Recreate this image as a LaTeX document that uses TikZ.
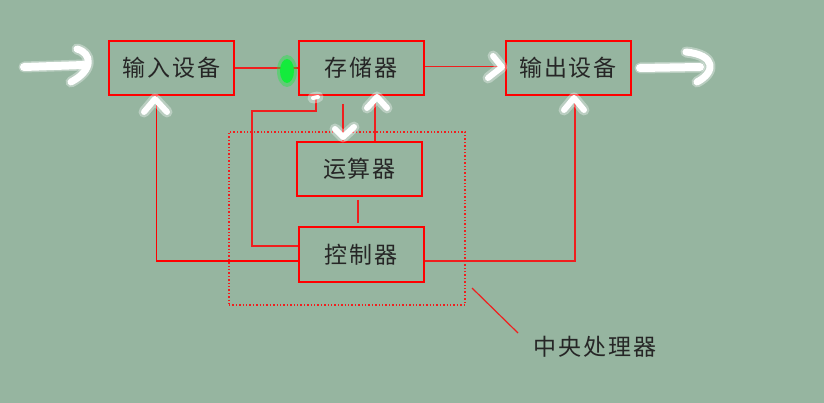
\documentclass[tikz,border=0pt]{standalone}
\usepackage{fontspec}
\newfontfamily\cjk{Noto Sans CJK SC}[LetterSpace=8]
\usepackage{tikz}
\usetikzlibrary{arrows.meta,positioning,calc}
\definecolor{slate}{RGB}{150,181,160}
\definecolor{wirered}{RGB}{240,30,30}
\definecolor{glowgreen}{RGB}{20,235,60}
\begin{document}
\begin{tikzpicture}[x=1pt, y=-1pt,
    unit/.style={draw=red, line width=2pt, minimum width=125pt, minimum height=54pt,
      inner sep=0pt, text=black!85, font=\cjk\fontsize{23}{26}\selectfont},
    cpu/.style={draw=wirered, line width=1.4pt, dotted, minimum width=236pt, minimum height=173pt},
    wire/.style={draw=wirered, line width=1.2pt},
    riser/.style={draw=wirered, line width=1.5pt},
    heavywire/.style={draw=red, line width=1.6pt},
    glow/.style={draw=white, line width=6pt, line cap=round, line join=round,
      preaction={draw=white, opacity=0.35, line width=11pt, line cap=round, line join=round}}]
    \useasboundingbox[fill=slate] (0,0) rectangle (824,403);
    % boxes
    \node[unit] (input) at (171.5,68) {输入设备};
    \node[unit] (store) at (361,68) {存储器};
    \node[unit] (output) at (568,68) {输出设备};
    \node[unit] (alu) at (359.5,169) {运算器};
    \node[unit] (ctrl) at (361,254.5) {控制器};
    \node[cpu] (cpu) at (347,218.5) {};
    \node[font=\cjk\fontsize{23}{26}\selectfont, text=black!85] (cpulabel) at (595,347) {中央处理器};
    % connectors
    \draw[wire] (input.east) -- (store.west);
    \draw[wire] ([yshift=1.5pt]store.east) -- ([yshift=1.5pt]output.west);
    \draw[heavywire] ([xshift=-15pt]input.south) |- ([yshift=-6.5pt]ctrl.west);
    \draw[riser] ([yshift=-6.5pt]ctrl.east) -| ([xshift=7pt]output.south);
    \coordinate (ltop) at (252,111);
    \draw[riser] ([xshift=-45pt]store.south) |- (ltop) |- ([yshift=8.5pt]ctrl.west);
    \draw[riser] ([xshift=-18pt,yshift=-8pt]store.south) -- ([xshift=-18pt]store.south |- alu.north);
    \draw[riser] ([xshift=14pt]store.south) -- ([xshift=14pt]store.south |- alu.north);
    \draw[riser] ([xshift=-1.5pt,yshift=-3pt]alu.south) -- ([xshift=-1.5pt,yshift=3pt]alu.south |- ctrl.north);
    \coordinate (leadtop) at (472,288);
    \coordinate (leadend) at (518,333);
    \draw[wire] (leadtop) -- (leadend);
    % glowing arrows
    \draw[glow, line width=8pt] (24,67) -- (84,65);
    \draw[glow, line width=7pt] (77,49) .. controls (92,53) and (94,70) .. (71,82);
    \draw[glow, line width=8pt] (640,68) -- (700,67);
    \draw[glow, line width=7pt] (686,52) .. controls (716,55) and (716,72) .. (697,82);
    \draw[glow] (493,56) -- (502,67) -- (488,78);
    \draw[glow] (144,112) -- (155,99) -- (167,112);
    \draw[glow] (367,108) -- (377,97) -- (387,108);
    \draw[glow] (564,110) -- (574,98) -- (584,110);
    \draw[glow] (335,129) -- (343,137) -- (354,127);
    \draw[glow, line width=4pt] (313,98) -- (318,97);
    \fill[glowgreen, opacity=0.4] (287,71) ellipse (10 and 16);
    \fill[glowgreen] (287,71) ellipse (7 and 12);
  \end{tikzpicture}
\end{document}
